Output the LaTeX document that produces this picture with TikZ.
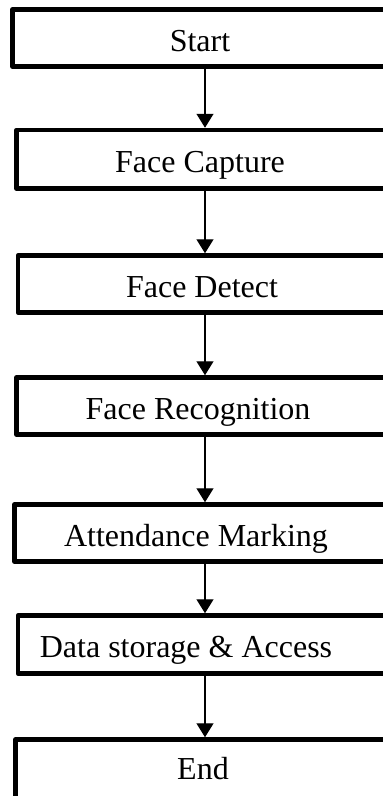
\documentclass[tikz,border=0pt]{standalone}
\usepackage{fontspec}
\setmainfont{Liberation Serif}
\usetikzlibrary{arrows.meta}
\begin{document}
\begin{tikzpicture}[x=1pt,y=-1pt,
  stage/.style={draw, rectangle, line width=4.5pt, line join=round, inner sep=0pt},
  caption/.style={anchor=base, inner sep=0pt, font=\fontsize{32}{38}\selectfont},
  flow/.style={line width=1.3pt, -{Triangle[width=17pt,length=14pt]}}]
\useasboundingbox (0,0) rectangle (383,796);
\coordinate (axis) at (205,0);
% process boxes (right edges run past the page)
\node[stage, minimum width=380.5pt, minimum height=57pt]   (b1) at (202.75,38) {};
\node[stage, minimum width=376.5pt, minimum height=58.5pt] (b2) at (204.75,159.25) {};
\node[stage, minimum width=375pt,   minimum height=57pt]   (b3) at (205.5,284) {};
\node[stage, minimum width=376.5pt, minimum height=57pt]   (b4) at (204.75,406) {};
\node[stage, minimum width=378.5pt, minimum height=57pt]   (b5) at (203.75,533) {};
\node[stage, minimum width=375pt,   minimum height=58pt]   (b6) at (205.5,644.5) {};
\node[stage, minimum width=377.5pt, minimum height=90.5pt] (b7) at (204.25,784.75) {};
% labels
\node[caption] (t1) at (200,51)    {Start};
\node[caption] (t2) at (200,172)   {Face Capture};
\node[caption] (t3) at (202,297)   {Face Detect};
\node[caption] (t4) at (198,419)   {Face Recognition};
\node[caption] (t5) at (196,546)   {Attendance Marking};
\node[caption] (t6) at (186,657.5) {Data storage \& Access};
\node[caption] (t7) at (203,779)   {End};
% connectors
\draw[flow] (b1.south -| axis) -- (b2.north -| axis);
\draw[flow] (b2.south -| axis) -- (b3.north -| axis);
\draw[flow] (b3.south -| axis) -- (b4.north -| axis);
\draw[flow] (b4.south -| axis) -- (b5.north -| axis);
\draw[flow] (b5.south -| axis) -- (b6.north -| axis);
\draw[flow] (b6.south -| axis) -- (b7.north -| axis);
\end{tikzpicture}
\end{document}
